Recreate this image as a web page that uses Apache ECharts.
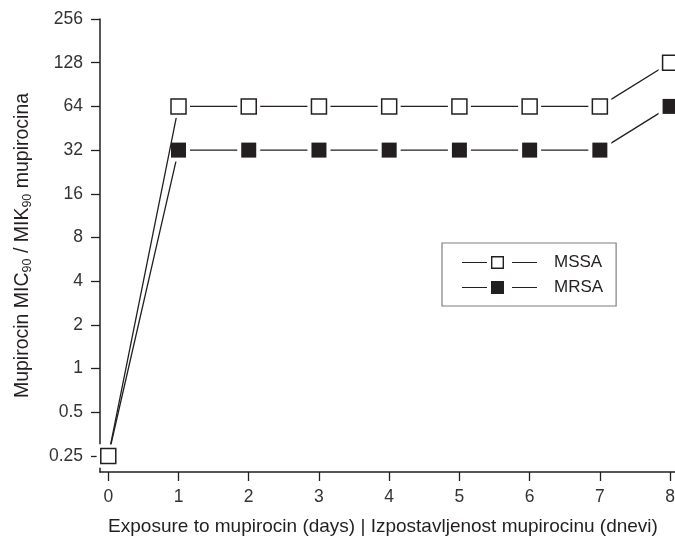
<!DOCTYPE html>
<html>
<head>
<meta charset="utf-8">
<script src="https://cdn.jsdelivr.net/npm/echarts@6/dist/echarts.min.js"></script>
<style>
  html, body { margin: 0; padding: 0; background: #fff; }
  #chart { width: 675px; height: 537px; }
</style>
</head>
<body>
<div id="chart"></div>
<script>
var days = [0, 1, 2, 3, 4, 5, 6, 7, 8];
var mssa = [0.25, 64, 64, 64, 64, 64, 64, 64, 128];
var mrsa = [0.25, 32, 32, 32, 32, 32, 32, 32, 64];
var yTicks = [0.25, 0.5, 1, 2, 4, 8, 16, 32, 64, 128, 256];
var xTicks = [0, 1, 2, 3, 4, 5, 6, 7, 8];

var ink = '#231f20';
var font = 'Liberation Sans';

// legend icons: line - square - line (hollow square has a hole)
var iconOpen = 'path://M0,7.9H25V9.1H0Z M29,2H42V15H29Z M30.4,3.4V13.6H40.6V3.4Z M50,7.9H75V9.1H50Z';
var iconFull = 'path://M0,7.9H25V9.1H0Z M29,2H42V15H29Z M50,7.9H75V9.1H50Z';

function pairs(ys) {
  return days.map(function (d, i) { return [d, ys[i]]; });
}

var chart = echarts.init(document.getElementById('chart'));

var option = {
  animation: false,
  backgroundColor: '#fff',
  grid: { left: 100, right: 0, top: 19, bottom: 65, outerBoundsMode: 'none', containLabel: false },
  legend: {
    left: 442,
    top: 243,
    orient: 'vertical',
    padding: [11, 13, 10, 20],
    itemGap: 8,
    itemWidth: 75,
    itemHeight: 13,
    borderColor: '#7f7f7f',
    borderWidth: 1.2,
    selectedMode: false,
    textStyle: { fontFamily: font, fontSize: 17, color: ink, padding: [0, 0, 0, 12], lineHeight: 17 },
    data: [
      { name: 'MSSA', icon: iconOpen, itemStyle: { color: ink, borderWidth: 0 } },
      { name: 'MRSA', icon: iconFull, itemStyle: { color: ink, borderWidth: 0 } }
    ]
  },
  xAxis: {
    type: 'value',
    min: -0.118,
    max: 8.07,
    name: 'Exposure to mupirocin (days) | Izpostavljenost mupirocinu (dnevi)',
    nameLocation: 'middle',
    nameGap: 44,
    nameMoveOverlap: false,
    nameTextStyle: { fontFamily: font, fontSize: 19, color: ink, lineHeight: 22, padding: [0, 9, 0, 0] },
    axisLine: { onZero: false, lineStyle: { color: ink, width: 1.5 } },
    axisTick: { show: true, length: 9, lineStyle: { color: ink, width: 1.3 }, customValues: xTicks },
    axisLabel: { fontFamily: font, fontSize: 17.5, color: '#333', margin: 16, customValues: xTicks },
    splitLine: { show: false }
  },
  yAxis: {
    type: 'log',
    logBase: 2,
    min: 0.194,
    max: 256,
    name: 'Mupirocin MIC{sub|90} / MIK{sub|90} mupirocina',
    nameLocation: 'middle',
    nameGap: 66,
    nameMoveOverlap: false,
    nameRotate: 90,
    nameTextStyle: {
      fontFamily: font, fontSize: 19.5, color: ink, lineHeight: 22,
      rich: { sub: { fontFamily: font, fontSize: 12.5, color: ink, verticalAlign: 'bottom', lineHeight: 14 } }
    },
    axisLine: { show: true, onZero: false, lineStyle: { color: ink, width: 1.5 } },
    axisTick: { show: true, length: 9, lineStyle: { color: ink, width: 1.3 }, customValues: yTicks },
    axisLabel: {
      fontFamily: font, fontSize: 17.5, color: '#333', margin: 17, customValues: yTicks,
      formatter: function (v) { return String(+v.toPrecision(6)); }
    },
    splitLine: { show: false }
  },
  series: [
    { name: 'MRSA', type: 'line', data: pairs(mrsa), showSymbol: false, z: 2,
      lineStyle: { color: ink, width: 1.3 }, itemStyle: { color: ink } },
    { name: 'MRSA', type: 'scatter', data: pairs(mrsa), symbol: 'rect', symbolSize: 23, z: 3, silent: true,
      itemStyle: { color: '#fff', opacity: 1 } },
    { name: 'MSSA', type: 'line', data: pairs(mssa), showSymbol: false, z: 4,
      lineStyle: { color: ink, width: 1.3 }, itemStyle: { color: ink } },
    { name: 'MSSA', type: 'scatter', data: pairs(mssa), symbol: 'rect', symbolSize: 23, z: 5, silent: true,
      itemStyle: { color: '#fff', opacity: 1 } },
    { name: 'MRSA', type: 'scatter', data: pairs(mrsa), symbol: 'rect', symbolSize: 15, z: 6,
      itemStyle: { color: ink, opacity: 1 } },
    { name: 'MSSA', type: 'scatter', data: pairs(mssa), symbol: 'rect', symbolSize: 15, z: 7,
      itemStyle: { color: '#fff', borderColor: ink, borderWidth: 1.5, opacity: 1 } }
  ]
};

chart.setOption(option);
</script>
</body>
</html>
